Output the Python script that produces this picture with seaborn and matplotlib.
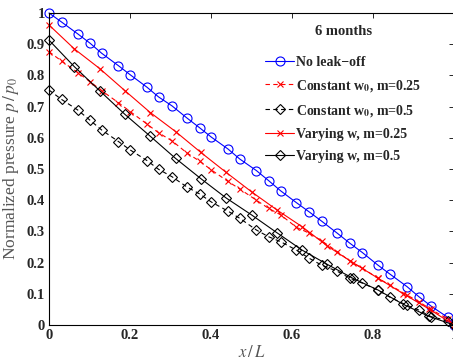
import numpy as np
import pandas as pd
import matplotlib
matplotlib.use("Agg")
import matplotlib.pyplot as plt
import seaborn as sns

# positions along the fracture (dense grid for no leak-off / constant w0, coarse grid for varying w)
x_dense = [0, 0.031, 0.071, 0.1015, 0.13, 0.1715, 0.2005, 0.242, 0.2705, 0.304,
           0.341, 0.372, 0.401, 0.442, 0.471, 0.512, 0.542, 0.572, 0.611, 0.643,
           0.673, 0.712, 0.743, 0.774, 0.812, 0.842, 0.884, 0.913, 0.943, 0.984, 1.0]
x_coarse = [0, 0.0625, 0.125, 0.1875, 0.25, 0.3125, 0.375, 0.4375, 0.5,
            0.5625, 0.625, 0.6875, 0.75, 0.8125, 0.875, 0.9375, 1.0]

p_no_leak = [1.0, 0.971, 0.933, 0.903, 0.871, 0.831, 0.802, 0.762, 0.731, 0.702,
             0.663, 0.632, 0.602, 0.564, 0.532, 0.495, 0.463, 0.430, 0.392, 0.362,
             0.333, 0.294, 0.262, 0.232, 0.192, 0.163, 0.123, 0.091, 0.061, 0.025, 0.0]
p_const_025 = [0.876, 0.846, 0.809, 0.780, 0.751, 0.7125, 0.684, 0.644, 0.616, 0.590,
               0.551, 0.525, 0.497, 0.460, 0.436, 0.400, 0.374, 0.353, 0.313, 0.294,
               0.270, 0.235, 0.205, 0.182, 0.150, 0.128, 0.096, 0.075, 0.050, 0.020, 0.0]
p_const_05 = [0.753, 0.723, 0.689, 0.656, 0.625, 0.588, 0.561, 0.527, 0.499, 0.475,
              0.442, 0.420, 0.394, 0.365, 0.342, 0.3045, 0.283, 0.267, 0.240, 0.2135,
              0.192, 0.172, 0.150, 0.134, 0.112, 0.089, 0.063, 0.048, 0.027, 0.014, 0.0]
p_vary_025 = [0.9615, 0.885, 0.822, 0.751, 0.681, 0.620, 0.553, 0.489, 0.427,
              0.369, 0.315, 0.253, 0.200, 0.150, 0.100, 0.052, 0.0]
p_vary_05 = [0.913, 0.828, 0.751, 0.675, 0.605, 0.534, 0.469, 0.407, 0.353,
             0.296, 0.240, 0.194, 0.150, 0.112, 0.066, 0.028, 0.0]

labels = ["No leak\u2212off",
          r"Constant w$_\mathbf{0}$, m=0.25",
          r"Constant w$_\mathbf{0}$, m=0.5",
          "Varying w, m=0.25",
          "Varying w, m=0.5"]

x_ticks = [0, 0.2, 0.4, 0.6, 0.8, 1]
x_ticklabels = ["0", "0.2", "0.4", "0.6", "0.8", "1"]
y_ticks = [0, 0.1, 0.2, 0.3, 0.4, 0.5, 0.6, 0.7, 0.8, 0.9, 1]
y_ticklabels = ["0", "0.1", "0.2", "0.3", "0.4", "0.5", "0.6", "0.7", "0.8", "0.9", "1"]

sns.set_style("white")
plt.rcParams["font.family"] = ["Liberation Serif", "DejaVu Serif"]
plt.rcParams["mathtext.fontset"] = "stix"

fig = plt.figure(figsize=(4.53, 3.6), dpi=100)
ax = fig.add_axes([0.1082, 0.0972, 0.894, 0.8667])

series = [
    (x_dense, p_no_leak, "blue", "o", "-", labels[0]),
    (x_dense, p_const_025, "red", "x", (0, (4, 3)), labels[1]),
    (x_dense, p_const_05, "black", "D", (0, (4, 3)), labels[2]),
    (x_coarse, p_vary_025, "red", "x", "-", labels[3]),
    (x_coarse, p_vary_05, "black", "D", "-", labels[4]),
]

marker_size = {"o": 6.5, "x": 5.0, "D": 5.0}

for xs, ys, c, m, ls, lab in series:
    df = pd.DataFrame({"x": xs, "p": ys})
    sns.lineplot(data=df, x="x", y="p", ax=ax, color=c, marker=m,
                 markersize=marker_size[m], markerfacecolor="none", markeredgecolor=c,
                 markeredgewidth=0.8, linewidth=0.8, linestyle=ls,
                 label=lab, estimator=None, clip_on=False)

ax.set_xlim(0, 1)
ax.set_ylim(0, 1)
ax.set_xticks(x_ticks)
ax.set_xticklabels(x_ticklabels, fontweight="bold", fontsize=10.5)
ax.set_yticks(y_ticks)
ax.set_yticklabels(y_ticklabels, fontweight="bold", fontsize=10.5)
ax.tick_params(direction="in", length=3.5, width=0.7, top=True, right=True, pad=3)
for s in ax.spines.values():
    s.set_color("black")
    s.set_linewidth(0.8)

ax.set_xlabel(r"$x\,/\,L$", fontsize=12, color="#555555", labelpad=2)
ax.set_ylabel(r"Normalized pressure $p\,/\,p_0$", fontsize=12.5, color="#555555", labelpad=4)

leg = ax.legend(loc="upper left", bbox_to_anchor=(0.52, 0.98), frameon=False,
                title="6 months", handlelength=2.1, handletextpad=0.15,
                labelspacing=0.65, borderaxespad=0,
                prop={"weight": "bold", "size": 10},
                title_fontproperties={"weight": "bold", "size": 10.5})
leg._legend_box.sep = 13

fig.savefig("out.png", dpi=100)
